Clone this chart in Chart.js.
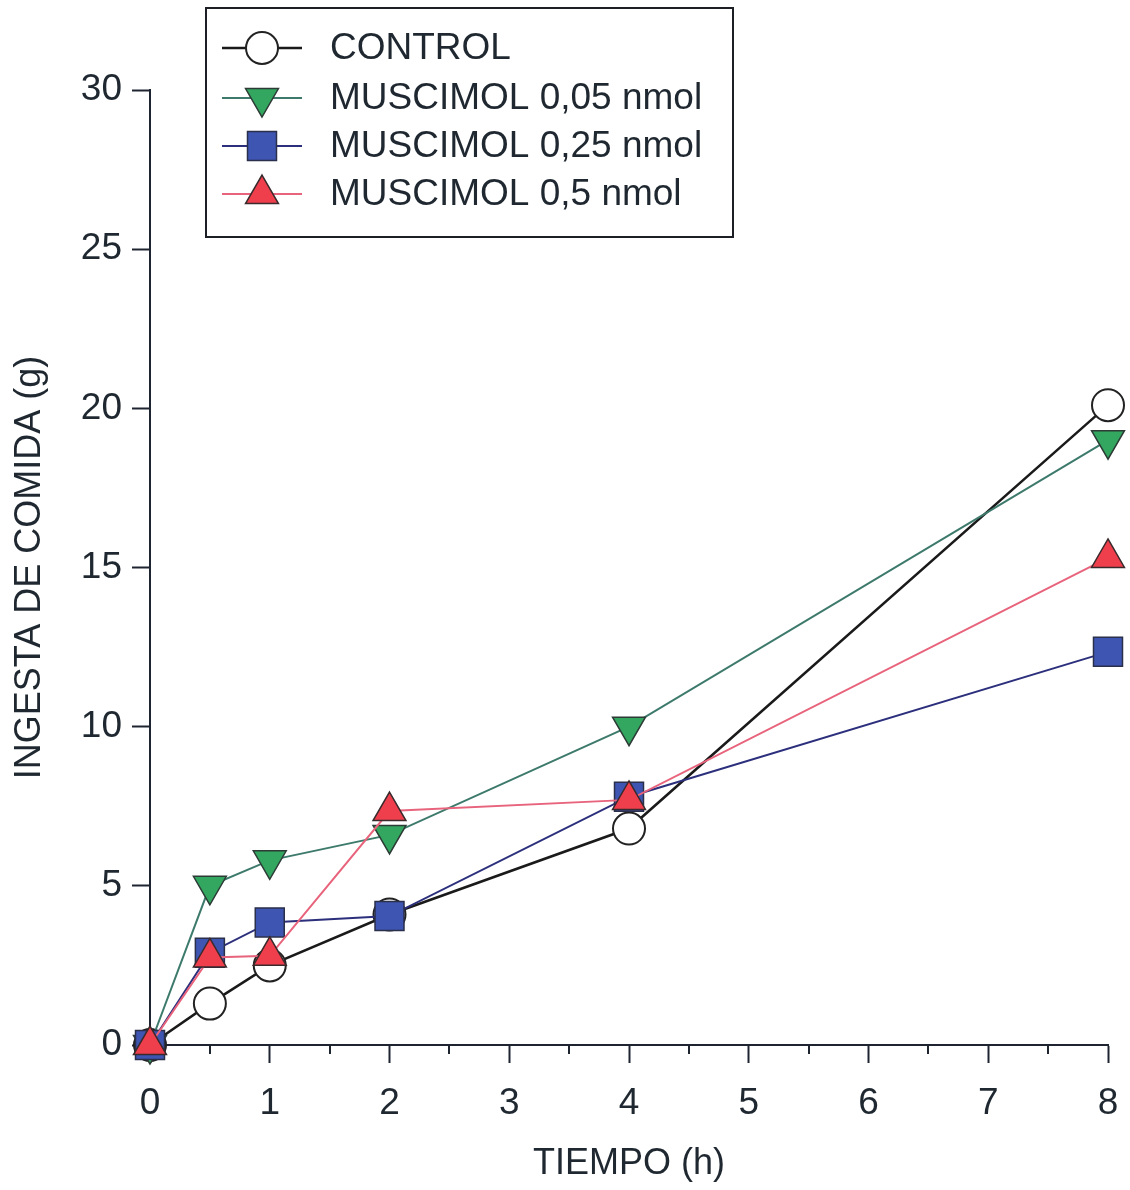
<!DOCTYPE html>
<html>
<head>
<meta charset="utf-8">
<title>Ingesta de comida</title>
<script src="https://cdn.jsdelivr.net/npm/chart.js@4.4.1/dist/chart.umd.min.js"></script>
<style>
    html, body { margin: 0; padding: 0; background: #fff; }
    #wrap { width: 1130px; height: 1190px; position: relative; }
</style>
</head>
<body>
<div id="wrap"><canvas id="chart" width="1130" height="1190"></canvas></div>
<script>
// values
const times = [0, 0.5, 1, 2, 4, 8];
const control = [0, 1.3, 2.5, 4.1, 6.8, 20.1];
const muscimol005 = [0, 5.0, 5.8, 6.6, 10.0, 19.0];
const muscimol025 = [0, 2.9, 3.85, 4.05, 7.8, 12.35];
const muscimol05 = [0, 2.75, 2.8, 7.35, 7.7, 15.3];

const seriesLabels = ['CONTROL', 'MUSCIMOL 0,05 nmol', 'MUSCIMOL 0,25 nmol', 'MUSCIMOL 0,5 nmol'];
const xTicks = [0, 1, 2, 3, 4, 5, 6, 7, 8];
const xMinorTicks = [0.5, 1.5, 2.5, 3.5, 4.5, 5.5, 6.5, 7.5];
const yTicks = [0, 5, 10, 15, 20, 25, 30];

const FONT = '"Liberation Sans", Arial, Helvetica, sans-serif';
const INK = '#1f2830';
const AXIS = '#1e2430';

function toPoints(values) {
    return times.map((t, i) => ({ x: t, y: values[i] }));
}

/**
 * Minor ticks on the x axis (half hours)
 */
const minorTicks = {
    id: 'minorTicks',
    afterDraw(chart) {
        const xs = chart.scales.x;
        const ctx = chart.ctx;
        ctx.save();
        ctx.strokeStyle = AXIS;
        ctx.lineWidth = 2;
        xMinorTicks.forEach(v => {
            const px = Math.round(xs.getPixelForValue(v));
            ctx.beginPath();
            ctx.moveTo(px, xs.top);
            ctx.lineTo(px, xs.top + 9);
            ctx.stroke();
        });
        ctx.restore();
    }
};

/**
 * Boxed legend in the upper left corner
 */
const boxLegend = {
    id: 'boxLegend',
    afterDraw(chart) {
        const ctx = chart.ctx;
        const box = { left: 206, top: 8, right: 733, bottom: 237 };
        const rows = [48, 98, 146, 194];
        ctx.save();
        ctx.fillStyle = '#fff';
        ctx.fillRect(box.left, box.top, box.right - box.left, box.bottom - box.top);
        ctx.strokeStyle = '#1c1f26';
        ctx.lineWidth = 2;
        ctx.strokeRect(box.left, box.top, box.right - box.left, box.bottom - box.top);

        seriesLabels.forEach((label, i) => {
            const ds = chart.data.datasets[i];
            const y = rows[i];
            ctx.strokeStyle = ds.borderColor;
            ctx.lineWidth = ds.borderWidth;
            ctx.beginPath();
            ctx.moveTo(222, y);
            ctx.lineTo(302, y);
            ctx.stroke();

            ctx.fillStyle = ds.pointBackgroundColor;
            ctx.strokeStyle = ds.pointBorderColor;
            ctx.lineWidth = ds.pointBorderWidth;
            Chart.helpers.drawPoint(ctx, {
                pointStyle: ds.pointStyle,
                rotation: ds.pointRotation || 0,
                radius: ds.pointRadius,
                borderWidth: ds.pointBorderWidth
            }, 262, y);

            ctx.fillStyle = INK;
            ctx.font = '37px ' + FONT;
            ctx.textAlign = 'left';
            ctx.textBaseline = 'middle';
            ctx.fillText(label, 330, y + 1);
        });
        ctx.restore();
    }
};

const datasets = [
    {
        label: seriesLabels[0],
        data: toPoints(control),
        borderColor: '#1a1a1a',
        borderWidth: 2.5,
        pointStyle: 'circle',
        pointRadius: 16,
        pointBackgroundColor: '#ffffff',
        pointBorderColor: '#222222',
        pointBorderWidth: 2,
        order: 4
    },
    {
        label: seriesLabels[1],
        data: toPoints(muscimol005),
        borderColor: '#3d7a6c',
        borderWidth: 2,
        pointStyle: 'triangle',
        pointRotation: 180,
        pointRadius: 19,
        pointBackgroundColor: '#33a760',
        pointBorderColor: '#2c3b36',
        pointBorderWidth: 1.5,
        order: 3
    },
    {
        label: seriesLabels[2],
        data: toPoints(muscimol025),
        borderColor: '#2c2f7c',
        borderWidth: 2,
        pointStyle: 'rect',
        pointRadius: 20.5,
        pointBackgroundColor: '#3e55b2',
        pointBorderColor: '#2a2f4a',
        pointBorderWidth: 1.5,
        order: 2
    },
    {
        label: seriesLabels[3],
        data: toPoints(muscimol05),
        borderColor: '#e8637c',
        borderWidth: 2,
        pointStyle: 'triangle',
        pointRadius: 19,
        pointBackgroundColor: '#ef3f4c',
        pointBorderColor: '#3a2a2c',
        pointBorderWidth: 1.5,
        order: 1
    }
];

new Chart(document.getElementById('chart'), {
    type: 'line',
    data: { datasets },
    options: {
        responsive: false,
        animation: false,
        events: [],
        clip: false,
        elements: { line: { tension: 0, fill: false } },
        layout: { padding: { top: 90, right: 20, left: 0, bottom: 0 } },
        plugins: {
            legend: { display: false },
            tooltip: { enabled: false }
        },
        scales: {
            x: {
                type: 'linear',
                min: 0,
                max: 8,
                afterFit(scale) {
                    scale.height = 145;
                    scale.paddingLeft = 0;
                    scale.paddingRight = 0;
                },
                afterBuildTicks(scale) { scale.ticks = xTicks.map(v => ({ value: v })); },
                border: { display: true, color: AXIS, width: 2 },
                grid: { display: true, drawOnChartArea: false, drawTicks: true, tickLength: 18, tickColor: AXIS, tickWidth: 2 },
                ticks: { color: INK, font: { family: FONT, size: 37 }, padding: 19, maxRotation: 0 },
                title: { display: true, text: 'TIEMPO (h)', color: INK, font: { family: FONT, size: 36 }, padding: { top: 0, bottom: 4 } }
            },
            y: {
                type: 'linear',
                min: 0,
                max: 30,
                afterFit(scale) {
                    scale.width = 150;
                    scale.paddingTop = 0;
                    scale.paddingBottom = 0;
                },
                afterBuildTicks(scale) { scale.ticks = yTicks.map(v => ({ value: v })); },
                border: { display: true, color: AXIS, width: 2 },
                grid: { display: true, drawOnChartArea: false, drawTicks: true, tickLength: 18, tickColor: AXIS, tickWidth: 2 },
                ticks: { color: INK, font: { family: FONT, size: 37 }, padding: 10 },
                title: { display: true, text: 'INGESTA DE COMIDA (g)', color: INK, font: { family: FONT, size: 36 }, padding: { top: 8, bottom: 0 } }
            }
        }
    },
    plugins: [minorTicks, boxLegend]
});
</script>
</body>
</html>
